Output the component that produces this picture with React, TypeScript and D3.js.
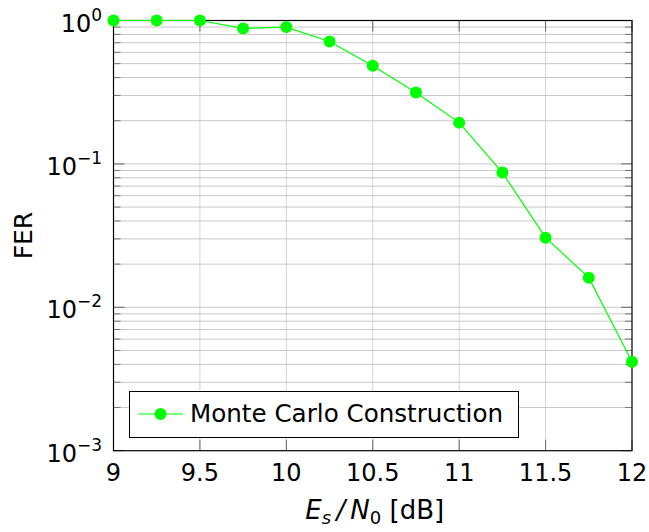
import React from "react";
import * as d3 from "d3";

const esn0: number[] = [9, 9.25, 9.5, 9.75, 10, 10.25, 10.5, 10.75, 11, 11.25, 11.5, 11.75, 12];
const fer: number[] = [1.0, 1.0, 1.0, 0.88, 0.9, 0.714, 0.483, 0.3145, 0.194, 0.087, 0.0306, 0.0161, 0.00417];
const xTicks: number[] = [9, 9.5, 10, 10.5, 11, 11.5, 12];
const xTickLabels: string[] = ["9", "9.5", "10", "10.5", "11", "11.5", "12"];
const yDecades: number[] = [0, -1, -2, -3];
const seriesName = "Monte Carlo Construction";

const W = 649;
const H = 532;
const L = 113.5;
const T = 20.5;
const R = 632;
const B = 450.7;
const FONT = "'DejaVu Sans', sans-serif";
const FS = 24;
const GREEN = "#00ff00";

export default function App() {
  const x = d3.scaleLinear().domain([9, 12]).range([L, R]);
  const y = d3.scaleLog().domain([1e-3, 1]).range([B, T]);

  const minorVals: number[] = [];
  for (const d of [-3, -2, -1]) {
    for (let k = 2; k <= 9; k++) minorVals.push(k * Math.pow(10, d));
  }
  const majorVals = yDecades.map((d) => Math.pow(10, d));

  const line = d3
    .line<number>()
    .x((_, i) => x(esn0[i]))
    .y((v) => y(v));

  return (
    <svg width={W} height={H} style={{ position: "absolute", left: 0, top: 0 }}>
      <rect x={0} y={0} width={W} height={H} fill="#fff" />
      {/* vertical grid */}
      {xTicks.slice(1, -1).map((t) => (
        <line key={"vg" + t} x1={x(t)} x2={x(t)} y1={T} y2={B} stroke="#d4d4d4" strokeWidth={1} />
      ))}
      {/* horizontal grid */}
      {minorVals.concat(majorVals.slice(1, -1)).map((v) => (
        <line key={"hg" + v} x1={L} x2={R} y1={y(v)} y2={y(v)} stroke="#c8c8c8" strokeWidth={1} />
      ))}
      {/* ticks */}
      {minorVals.map((v) => (
        <g key={"mt" + v}>
          <line x1={L} x2={L + 7} y1={y(v)} y2={y(v)} stroke="#777" strokeWidth={1} />
          <line x1={R} x2={R - 7} y1={y(v)} y2={y(v)} stroke="#777" strokeWidth={1} />
        </g>
      ))}
      {majorVals.map((v) => (
        <g key={"Mt" + v}>
          <line x1={L} x2={L + 11} y1={y(v)} y2={y(v)} stroke="#666" strokeWidth={1} />
          <line x1={R} x2={R - 11} y1={y(v)} y2={y(v)} stroke="#666" strokeWidth={1} />
        </g>
      ))}
      {xTicks.map((t) => (
        <g key={"xt" + t}>
          <line x1={x(t)} x2={x(t)} y1={B} y2={B - 11} stroke="#666" strokeWidth={1} />
          <line x1={x(t)} x2={x(t)} y1={T} y2={T + 11} stroke="#666" strokeWidth={1} />
        </g>
      ))}
      {/* frame */}
      <rect x={L} y={T} width={R - L} height={B - T} fill="none" stroke="#000" strokeWidth={1.2} />
      {/* series */}
      <path d={line(fer) || ""} fill="none" stroke={GREEN} strokeWidth={1.2} />
      {fer.map((v, i) => (
        <circle key={"p" + i} cx={x(esn0[i])} cy={y(v)} r={6} fill={GREEN} />
      ))}
      {/* x tick labels */}
      {xTicks.map((t, i) => (
        <text key={"xl" + t} x={x(t)} y={481} textAnchor="middle" fontFamily={FONT} fontSize={FS} fill="#000">
          {xTickLabels[i]}
        </text>
      ))}
      {/* y tick labels */}
      {yDecades.map((d) => (
        <text key={"yl" + d} x={102} y={y(Math.pow(10, d)) + 11} textAnchor="end" fontFamily={FONT} fontSize={FS} fill="#000">
          10
          <tspan fontSize={17} dy={-11}>
            {d === 0 ? "0" : "\u2212" + Math.abs(d)}
          </tspan>
        </text>
      ))}
      {/* axis labels */}
      <text x={(L + R) / 2 + 2} y={519} textAnchor="middle" fontFamily={FONT} fontSize={26} fill="#000">
        <tspan fontStyle="italic">E</tspan>
        <tspan fontStyle="italic" fontSize={18} dy={5}>s</tspan>
        <tspan dy={-5} fontStyle="italic">{"\u2009/\u2009N"}</tspan>
        <tspan fontSize={18} dy={5}>0</tspan>
        <tspan dy={-5}>{"\u00a0[dB]"}</tspan>
      </text>
      <text
        transform={`translate(32,${(T + B) / 2}) rotate(-90)`}
        textAnchor="middle"
        fontFamily={FONT}
        fontSize={25}
        fill="#000"
      >
        FER
      </text>
      {/* legend */}
      <rect x={129.5} y={391.5} width={389} height={46} fill="#fff" stroke="#000" strokeWidth={1} />
      <line x1={138} x2={183} y1={414} y2={414} stroke={GREEN} strokeWidth={1.2} />
      <circle cx={160.5} cy={414} r={6} fill={GREEN} />
      <text x={190} y={422} fontFamily={FONT} fontSize={24.6} fill="#000">
        {seriesName}
      </text>
    </svg>
  );
}
